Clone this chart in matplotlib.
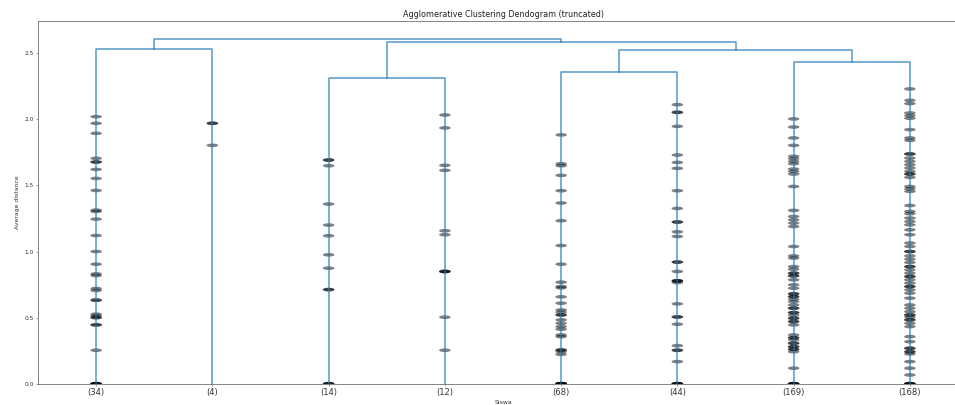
import numpy as np
import matplotlib
matplotlib.use("Agg")
from matplotlib import pyplot as plt
from matplotlib.patches import Ellipse

# truncated leaves (cluster sizes) and heights of merges hidden inside each
leaf_labels = ["(34)", "(4)", "(14)", "(12)", "(68)", "(44)", "(169)", "(168)"]

marks_34 = [2.02, 1.97, 1.894, 1.705, 1.677, 1.677, 1.621, 1.553, 1.462, 1.313, 1.303,
            1.245, 1.121, 1.0, 0.904, 0.831, 0.818, 0.72, 0.705, 0.632, 0.632, 0.526,
            0.513, 0.5, 0.5, 0.445, 0.445, 0.253, 0.0, 0.0, 0.0, 0.0, 0.0]
marks_4 = [1.97, 1.97, 1.803]
marks_14 = [1.692, 1.692, 1.649, 1.359, 1.2, 1.119, 0.975, 0.874, 0.712, 0.712,
            0.0, 0.0, 0.0]
marks_12 = [2.033, 1.935, 1.652, 1.614, 1.157, 1.127, 0.849, 0.849, 0.849, 0.503, 0.253]
marks_68 = [1.882, 1.664, 1.649, 1.576, 1.46, 1.367, 1.233, 1.045, 0.904, 0.768,
            0.735, 0.725, 0.657, 0.609, 0.558, 0.541, 0.52, 0.52, 0.483, 0.457,
            0.432, 0.412, 0.369, 0.356, 0.255, 0.255, 0.242, 0.222,
            0.0, 0.0, 0.0, 0.0, 0.0, 0.0]
marks_44 = [2.111, 2.053, 2.053, 1.947, 1.73, 1.674, 1.629, 1.46, 1.326, 1.223, 1.223,
            1.149, 1.114, 0.92, 0.92, 0.849, 0.778, 0.778, 0.778, 0.765, 0.604,
            0.505, 0.505, 0.45, 0.288, 0.253, 0.253, 0.167, 0.0, 0.0, 0.0, 0.0]
marks_169 = [2.003, 1.942, 1.859, 1.803, 1.72, 1.702, 1.682, 1.664, 1.624, 1.606,
             1.586, 1.492, 1.311, 1.265, 1.24, 1.215, 1.189, 1.038, 0.967, 0.95,
             0.886, 0.866, 0.836, 0.816, 0.786, 0.748, 0.722, 0.68, 0.659, 0.639,
             0.621, 0.596, 0.571, 0.538, 0.518, 0.495, 0.47, 0.445, 0.369, 0.348,
             0.331, 0.306, 0.28, 0.26, 0.242, 0.117,
             0.836, 0.816, 0.68, 0.659, 0.571, 0.538, 0.495, 0.47, 0.348, 0.306,
             0.28, 0.26, 0.0, 0.0, 0.0, 0.0]
marks_168 = [2.23, 2.144, 2.119, 2.048, 2.028, 2.008, 1.922, 1.859, 1.841, 1.738,
             1.707, 1.682, 1.657, 1.632, 1.606, 1.586, 1.561, 1.492, 1.475, 1.455,
             1.348, 1.303, 1.286, 1.253, 1.227, 1.202, 1.164, 1.127, 1.064, 1.038,
             1.0, 0.967, 0.942, 0.917, 0.886, 0.861, 0.836, 0.811, 0.786, 0.761,
             0.735, 0.71, 0.685, 0.647, 0.596, 0.571, 0.545, 0.52, 0.503, 0.483,
             0.457, 0.432, 0.356, 0.318, 0.268, 0.242, 0.225, 0.167, 0.117, 0.066,
             1.738, 1.586, 1.0, 0.886, 0.811, 0.735, 0.52, 0.483, 0.268, 0.242,
             0.0, 0.0, 0.0, 0.0]
leaf_marks = [marks_34, marks_4, marks_14, marks_12, marks_68, marks_44, marks_169, marks_168]

# merges: (left node, right node, height); nodes 0-7 are leaves, 8+ are merges
merges = [(0, 1, 2.530),
          (2, 3, 2.314),
          (4, 5, 2.361),
          (6, 7, 2.430),
          (10, 11, 2.525),
          (9, 12, 2.586),
          (8, 13, 2.611)]

n = len(leaf_labels)
xpos = [5 + 10 * i for i in range(n)]
ypos = [0.0] * n
lines = []
for a, b, h in merges:
    lines.append(([xpos[a], xpos[a], xpos[b], xpos[b]], [ypos[a], h, h, ypos[b]]))
    xpos.append((xpos[a] + xpos[b]) / 2)
    ypos.append(h)

dvw = max(m[2] for m in merges) * 1.05

fig = plt.figure(figsize=(9.55, 4.05), dpi=100)
# the original figure is cut off on the right, just before the right spine
ax = fig.add_axes([38 / 955, 21.3 / 405, 917 / 955, 362.4 / 405])

for xs, ys in lines:
    ax.plot(xs, ys, color="C0", lw=1.1, alpha=0.75)

for i, marks in enumerate(leaf_marks):
    for y in marks:
        ax.add_patch(Ellipse((xpos[i], y), width=1.0, height=dvw / 100,
                             facecolor="k", edgecolor="none", alpha=0.5, zorder=1))

ax.set_xlim(0, 10 * n * 917 / 930)
ax.set_ylim(0, dvw)
ax.set_xticks(xpos[:n])
ax.set_xticklabels(leaf_labels, fontsize=6)
ax.set_yticks([0.0, 0.5, 1.0, 1.5, 2.0, 2.5])
ax.set_yticklabels(["0.0", "0.5", "1.0", "1.5", "2.0", "2.5"], fontsize=4.2)
ax.tick_params(length=1.5, width=0.4, pad=1.5, color="#555555", labelcolor="#333333")
for s in ax.spines.values():
    s.set_linewidth(0.5)
    s.set_color("#555555")
ax.spines["right"].set_visible(False)

ax.set_title("Agglomerative Clustering Dendogram (truncated)", fontsize=5.8, pad=3,
             color="#222222", x=465 / 917)
ax.set_xlabel("Siswa", fontsize=4.4, labelpad=2, color="#333333", x=465 / 917)
ax.set_ylabel("Average distance", fontsize=4.4, labelpad=3, color="#333333")

fig.savefig("out.png", dpi=100)
